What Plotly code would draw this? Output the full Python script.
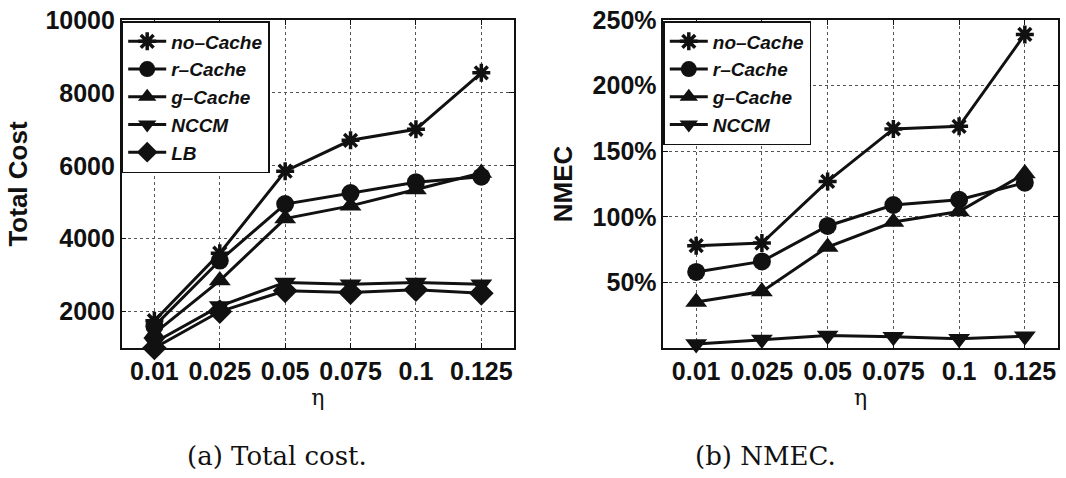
import plotly.graph_objects as go

# eta values on the horizontal axis (evenly spaced categories)
eta = ["0.01", "0.025", "0.05", "0.075", "0.1", "0.125"]

# (a) Total cost
cost_no_cache = [1750, 3600, 5850, 6700, 7000, 8550]
cost_r_cache = [1600, 3400, 4950, 5250, 5550, 5700]
cost_g_cache = [1400, 2850, 4550, 4900, 5350, 5800]
cost_nccm = [1150, 2150, 2800, 2750, 2800, 2750]
cost_lb = [1000, 2000, 2570, 2520, 2600, 2500]

# (b) NMEC, in percent
nmec_no_cache = [78, 80, 127, 167, 169, 239]
nmec_r_cache = [58, 66, 93, 109, 113, 126]
nmec_g_cache = [35, 43, 77, 96, 104, 133]
nmec_nccm = [3, 6.5, 9.5, 8.5, 7, 9]

cost_ticks = [2000, 4000, 6000, 8000, 10000]
cost_ticktext = ["2000", "4000", "6000", "8000", "10000"]
nmec_ticks = [50, 100, 150, 200, 250]
nmec_ticktext = ["50%", "100%", "150%", "200%", "250%"]

W, H = 1066, 478
BLACK = "#111111"

# per-series marker styles
styles = {
    "no–Cache": dict(symbol="asterisk-open", size=15, line=dict(width=3.5, color=BLACK)),
    "r–Cache": dict(symbol="circle", size=18, line=dict(width=0)),
    "g–Cache": dict(symbol="triangle-up", size=19, line=dict(width=0)),
    "NCCM": dict(symbol="triangle-down", size=19, line=dict(width=0)),
    "LB": dict(symbol="diamond", size=19, line=dict(width=0)),
}

fig = go.Figure()


def add_series(name, values, xa, ya, legend):
    st = styles[name]
    fig.add_trace(go.Scatter(
        x=eta, y=values, name=name, mode="lines+markers",
        line=dict(color=BLACK, width=3),
        marker=dict(color=BLACK, **st),
        xaxis=xa, yaxis=ya, legend=legend, cliponaxis=False,
    ))


for name, vals in [("no–Cache", cost_no_cache), ("r–Cache", cost_r_cache),
                   ("g–Cache", cost_g_cache), ("NCCM", cost_nccm), ("LB", cost_lb)]:
    add_series(name, vals, "x", "y", "legend")

for name, vals in [("no–Cache", nmec_no_cache), ("r–Cache", nmec_r_cache),
                   ("g–Cache", nmec_g_cache), ("NCCM", nmec_nccm)]:
    add_series(name, vals, "x2", "y2", "legend2")


def px_x(p):
    return p / W


def px_y(p):
    return 1 - p / H


tick_font = dict(family="Liberation Sans, Arial, sans-serif", size=25, color=BLACK, weight="bold")
title_font = dict(family="Liberation Sans, Arial, sans-serif", size=26, color=BLACK, weight="bold")
eta_font = dict(family="DejaVu Serif, serif", size=22, color=BLACK)

# light dotted grid
grid = dict(showgrid=True, gridcolor="#555555", gridwidth=1, griddash="dot")

common_x = dict(
    type="category", range=[-0.5, 5.5], showline=True, linecolor=BLACK, linewidth=1.5,
    mirror="ticks", ticks="inside", ticklen=5, tickcolor=BLACK, tickfont=tick_font,
    zeroline=False, automargin=False,
    title=dict(text="η", font=eta_font, standoff=4), **grid,
)
common_y = dict(
    showline=True, linecolor=BLACK, linewidth=1.5, mirror="ticks", ticks="inside",
    ticklen=5, tickcolor=BLACK, tickfont=tick_font, zeroline=False, automargin=False, **grid,
)

legend_common = dict(
    bgcolor="white", bordercolor=BLACK, borderwidth=1.5,
    font=dict(family="Liberation Sans, Arial, sans-serif", size=19, color=BLACK,
              weight="bold", style="italic"),
    xanchor="left", yanchor="top", itemwidth=38, tracegroupgap=0,
)

fig.update_layout(
    width=W, height=H, margin=dict(l=0, r=0, t=0, b=0, autoexpand=False),
    paper_bgcolor="white", plot_bgcolor="white", showlegend=True,
    xaxis=dict(domain=[px_x(121.7), px_x(514)], anchor="y", **common_x),
    yaxis=dict(domain=[px_y(348), px_y(20)], anchor="x", range=[1000, 10000],
               tickvals=cost_ticks, ticktext=cost_ticktext,
               title=dict(text="Total Cost", font=title_font, standoff=10), **common_y),
    xaxis2=dict(domain=[px_x(663.3), px_x(1057.7)], anchor="y2", **common_x),
    yaxis2=dict(domain=[px_y(348), px_y(20)], anchor="x2", range=[0, 250],
                tickvals=nmec_ticks, ticktext=nmec_ticktext,
                title=dict(text="NMEC", font=title_font, standoff=12), **common_y),
    legend=dict(x=px_x(121.7), y=px_y(21), **legend_common),
    legend2=dict(x=px_x(663.3), y=px_y(21), **legend_common),
    annotations=[
        dict(text="(a) Total cost.", x=px_x(277), y=px_y(456), xref="paper", yref="paper",
             showarrow=False, xanchor="center", yanchor="middle",
             font=dict(family="DejaVu Serif, serif", size=26, color=BLACK)),
        dict(text="(b) NMEC.", x=px_x(766), y=px_y(456), xref="paper", yref="paper",
             showarrow=False, xanchor="center", yanchor="middle",
             font=dict(family="DejaVu Serif, serif", size=26, color=BLACK)),
    ],
)

fig.write_html("out.html")
